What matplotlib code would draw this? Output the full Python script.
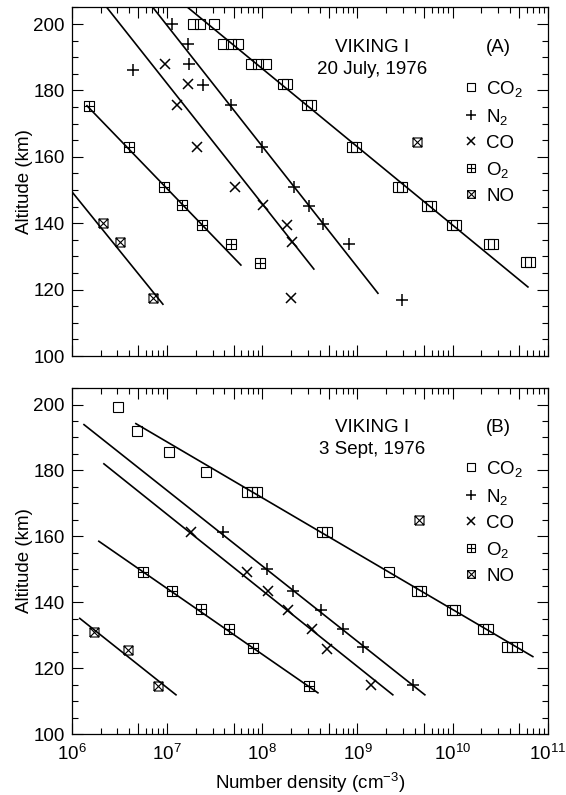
import numpy as np
import matplotlib.pyplot as plt
from matplotlib.path import Path
from matplotlib.lines import Line2D
from matplotlib.ticker import FixedLocator, FuncFormatter, MultipleLocator

plt.rcParams['font.family'] = ['Liberation Sans', 'DejaVu Sans']
plt.rcParams['mathtext.fontset'] = 'custom'
plt.rcParams['mathtext.rm'] = 'Liberation Sans'
plt.rcParams['mathtext.default'] = 'regular'
FS = 13.5
plt.rcParams['font.size'] = FS

# ---- Panel A : VIKING I, 20 July 1976 ----
a_co2_n = [1.87e7, 2.21e7, 3.10e7, 3.85e7, 4.68e7, 5.55e7, 7.59e7, 9.0e7, 1.09e8,
           1.64e8, 1.81e8, 2.95e8, 3.24e8, 8.73e8, 9.6e8, 2.65e9, 2.92e9,
           5.36e9, 5.9e9, 9.8e9, 1.08e10, 2.4e10, 2.64e10, 5.87e10, 6.47e10]
a_co2_z = [200, 200, 200, 194, 194, 194, 188, 188, 188,
           182, 182, 175.5, 175.5, 163, 163, 151, 151,
           145.2, 145.2, 139.5, 139.5, 133.8, 133.8, 128.2, 128.2]
a_n2_n = [1.12e7, 1.65e7, 1.69e7, 4.38e6, 2.38e7, 4.68e7, 9.9e7, 2.15e8, 3.08e8, 4.34e8, 8.13e8, 2.92e9]
a_n2_z = [200, 194, 188, 186.3, 181.5, 175.7, 163, 151, 145.2, 139.8, 133.7, 116.8]
a_co_n = [9.5e6, 1.65e7, 1.27e7, 2.06e7, 5.15e7, 1.01e8, 1.81e8, 2.05e8, 2.0e8]
a_co_z = [188, 181.8, 175.7, 163, 151, 145.5, 139.5, 134.3, 117.4]
a_o2_n = [1.51e6, 3.97e6, 9.25e6, 1.43e7, 2.32e7, 4.68e7, 9.44e7]
a_o2_z = [175.4, 163, 151, 145.5, 139.5, 133.7, 128]
a_no_n = [2.12e6, 3.19e6, 7.1e6, 4.21e9]
a_no_z = [140.1, 134.3, 117.4, 164.6]
# fitted lines: (n_start, n_end), (z_start, z_end)
a_fits = {
    'CO2': ([1.65e7, 6.17e10], [205, 120.8]),
    'N2': ([7.1e6, 1.64e9], [205, 118.9]),
    'CO': ([2.33e6, 3.48e8], [205, 126.2]),
    'O2': ([1.44e6, 5.96e7], [175.4, 127.4]),
    'NO': ([1.0e6, 9.04e6], [149.5, 115.6]),
}

# ---- Panel B : VIKING I, 3 Sept 1976 ----
b_co2_n = [3.04e6, 4.82e6, 1.04e7, 2.56e7, 6.89e7, 7.78e7, 8.77e7, 4.27e8, 4.79e8,
           2.14e9, 4.21e9, 4.63e9, 9.8e9, 1.05e10, 2.07e10, 2.34e10,
           3.71e10, 4.19e10, 4.72e10]
b_co2_z = [199.1, 192.1, 185.7, 179.6, 173.5, 173.5, 173.5, 161.3, 161.3,
           149.1, 143.3, 143.3, 137.5, 137.5, 132.0, 132.0,
           126.5, 126.5, 126.5]
b_n2_n = [3.85e7, 1.12e8, 2.09e8, 4.13e8, 7.03e8, 1.14e9, 3.82e9]
b_n2_z = [161.3, 150.0, 143.3, 137.5, 132.0, 126.5, 114.9]
b_co_n = [1.78e7, 6.89e7, 1.15e8, 1.86e8, 3.32e8, 4.78e8, 1.38e9]
b_co_z = [161.3, 149.1, 143.3, 137.5, 132.0, 125.9, 114.9]
b_o2_n = [5.57e6, 1.12e7, 2.26e7, 4.46e7, 7.96e7, 3.08e8]
b_o2_z = [149.1, 143.3, 137.8, 132.0, 126.2, 114.6]
b_no_n = [1.70e6, 3.87e6, 8.0e6, 4.42e9]
b_no_z = [131.1, 125.6, 114.6, 164.9]
b_fits = {
    'CO2': ([4.70e6, 6.95e10], [194.2, 123.5]),
    'N2': ([1.34e6, 5.1e9], [193.9, 111.9]),
    'CO': ([2.17e6, 2.35e9], [182.0, 111.9]),
    'O2': ([1.92e6, 3.84e8], [158.5, 112.5]),
    'NO': ([1.21e6, 1.24e7], [135.1, 111.9]),
}

species = ['CO2', 'N2', 'CO', 'O2', 'NO']
labels = ['CO$_2$', 'N$_2$', 'CO', 'O$_2$', 'NO']

# square with plus / square with cross markers
M, L = Path.MOVETO, Path.LINETO
sq_plus = Path([(-1, -1), (1, -1), (1, 1), (-1, 1), (-1, -1), (0, -1), (0, 1), (-1, 0), (1, 0)],
               [M, L, L, L, L, M, L, M, L])
sq_x = Path([(-1, -1), (1, -1), (1, 1), (-1, 1), (-1, -1), (-1, -1), (1, 1), (-1, 1), (1, -1)],
            [M, L, L, L, L, M, L, M, L])
styles = {
    'CO2': dict(marker='s', ms=6.5, mew=0.8, mfc='none'),
    'N2': dict(marker='+', ms=9, mew=1.1),
    'CO': dict(marker='x', ms=7, mew=1.1),
    'O2': dict(marker=sq_plus, ms=6.5, mew=0.8, mfc='none'),
    'NO': dict(marker=sq_x, ms=6.5, mew=0.8, mfc='none'),
}

fig = plt.figure(figsize=(5.66, 7.95), dpi=100)
axA = fig.add_axes([0.127, 0.5522, 0.841, 0.4384])
axB = fig.add_axes([0.127, 0.0767, 0.841, 0.4352])

panels = [
    (axA, [(a_co2_n, a_co2_z), (a_n2_n, a_n2_z), (a_co_n, a_co_z), (a_o2_n, a_o2_z), (a_no_n, a_no_z)],
     a_fits, '20 July, 1976', '(A)'),
    (axB, [(b_co2_n, b_co2_z), (b_n2_n, b_n2_z), (b_co_n, b_co_z), (b_o2_n, b_o2_z), (b_no_n, b_no_z)],
     b_fits, '3 Sept, 1976', '(B)'),
]

decades = [10.0 ** k for k in range(6, 12)]
fives = [5 * 10.0 ** k for k in range(6, 11)]
minors = [m * 10.0 ** k for k in range(6, 11) for m in (2, 3, 4, 6, 7, 8, 9)]


def fmt(v, pos):
    k = np.log10(v)
    if abs(k - round(k)) < 1e-6:
        return r'$10^{%d}$' % round(k)
    return ''


for ax, data, fits, date, tag in panels:
    ax.set_xscale('log')
    handles = []
    for sp, lab, (n, z) in zip(species, labels, data):
        xs, zs = fits[sp]
        ax.plot(xs, zs, color='black', lw=1.2)
        ax.plot(n, z, ls='none', color='black', **styles[sp])
        handles.append(Line2D([], [], ls='none', color='black', label=lab, **styles[sp]))
    ax.set_xlim(1e6, 1e11)
    ax.set_ylim(100, 205)
    ax.xaxis.set_major_locator(FixedLocator(decades + fives))
    ax.xaxis.set_minor_locator(FixedLocator(minors))
    ax.xaxis.set_major_formatter(FuncFormatter(fmt))
    ax.xaxis.set_minor_formatter(FuncFormatter(lambda v, p: ''))
    ax.yaxis.set_major_locator(MultipleLocator(20))
    ax.yaxis.set_minor_locator(MultipleLocator(5))
    ax.tick_params(which='both', direction='in', top=True, right=True, width=0.8, labelsize=FS)
    ax.tick_params(which='major', length=8, pad=5)
    ax.tick_params(which='minor', length=4.5)
    ax.tick_params(axis='x', which='major', pad=7)
    for s in ax.spines.values():
        s.set_linewidth(0.9)
    ax.set_ylabel('Altitude (km)', fontsize=FS, labelpad=0)
    ax.text(0.630, 0.886, 'VIKING I', transform=ax.transAxes, ha='center', va='center', fontsize=FS)
    ax.text(0.630, 0.821, date, transform=ax.transAxes, ha='center', va='center', fontsize=FS)
    ax.text(0.897, 0.886, tag, transform=ax.transAxes, ha='center', va='center', fontsize=FS)
    ax.legend(handles=handles, loc='upper left', bbox_to_anchor=(0.821, 0.795), frameon=False,
              borderpad=0, borderaxespad=0, handlelength=0.85, handletextpad=0.4,
              labelspacing=0.42, markerscale=0.85, fontsize=FS)

axA.tick_params(labelbottom=False)
axB.set_xlabel('Number density (cm$^{-3}$)', fontsize=FS, labelpad=5)

fig.savefig('out.png', dpi=100)
